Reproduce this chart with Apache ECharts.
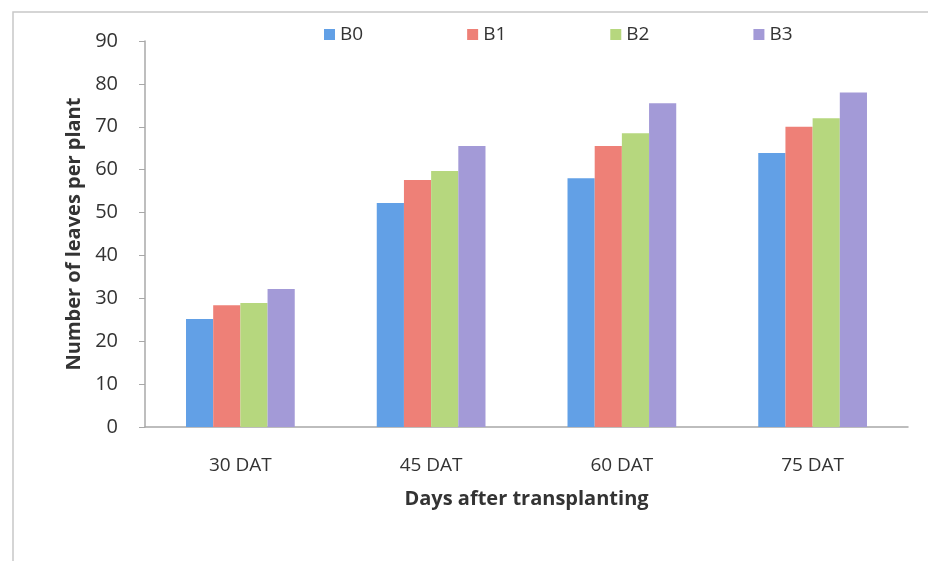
<!DOCTYPE html>
<html>
<head>
<meta charset="utf-8">
<script src="https://cdn.jsdelivr.net/npm/echarts@6/dist/echarts.min.js"></script>
<style>
  html, body { margin: 0; padding: 0; background: #fff; }
  #chart { width: 928px; height: 561px; }
</style>
</head>
<body>
<div id="chart"></div>
<script>
// Leaf counts per plant at each sampling date
const categories = ['30 DAT', '45 DAT', '60 DAT', '75 DAT'];
const seriesNames = ['B0', 'B1', 'B2', 'B3'];
const B0 = [25.2, 52.2, 58.0, 63.9];
const B1 = [28.4, 57.6, 65.5, 70.0];
const B2 = [28.9, 59.7, 68.5, 72.0];
const B3 = [32.2, 65.5, 75.5, 78.0];
const yTicks = { min: 0, max: 90, interval: 10 };

const colors = ['#62a0e6', '#ee8077', '#b6d77e', '#a39ad7'];
const font = '"Open Sans", Lato, sans-serif';

const chart = echarts.init(document.getElementById('chart'));
chart.setOption({
  animation: false,
  backgroundColor: '#fff',
  color: colors,
  graphic: [{
    type: 'rect',
    shape: { x: 13, y: 12, width: 940, height: 560 },
    style: { fill: 'none', stroke: '#c8c8c8', lineWidth: 1.5 },
    silent: true
  }],
  legend: {
    data: seriesNames,
    top: 20,
    left: 319,
    itemGap: 104,
    itemWidth: 11,
    itemHeight: 11,
    icon: 'rect',
    textStyle: { fontFamily: font, fontSize: 19, color: '#333' }
  },
  grid: { left: 145, right: 20, top: 41, bottom: 134, containLabel: false },
  xAxis: {
    type: 'category',
    data: categories,
    axisLine: { lineStyle: { color: '#a8a8a8', width: 1.5 } },
    axisTick: { show: false },
    axisLabel: { fontFamily: font, fontSize: 19, color: '#333', margin: 29 },
    name: 'Days after transplanting',
    nameLocation: 'middle',
    nameGap: 62,
    nameTextStyle: { fontFamily: font, fontSize: 20, fontWeight: 'bold', color: '#333' }
  },
  yAxis: {
    type: 'value',
    min: yTicks.min,
    max: yTicks.max,
    interval: yTicks.interval,
    splitLine: { show: false },
    axisLine: { show: true, lineStyle: { color: '#a8a8a8', width: 1.5 } },
    axisTick: { show: true, length: 6, lineStyle: { color: '#a8a8a8' } },
    axisLabel: { fontFamily: font, fontSize: 20, color: '#333', margin: 27 },
    name: 'Number of leaves per plant',
    nameLocation: 'middle',
    nameGap: 60,
    nameRotate: 90,
    nameTextStyle: { fontFamily: font, fontSize: 20, fontWeight: 'bold', color: '#333' }
  },
  series: [B0, B1, B2, B3].map((d, i) => ({
    name: seriesNames[i],
    type: 'bar',
    data: d,
    barGap: '0%',
    barCategoryGap: '43%',
    itemStyle: { color: colors[i] }
  }))
});
</script>
</body>
</html>
